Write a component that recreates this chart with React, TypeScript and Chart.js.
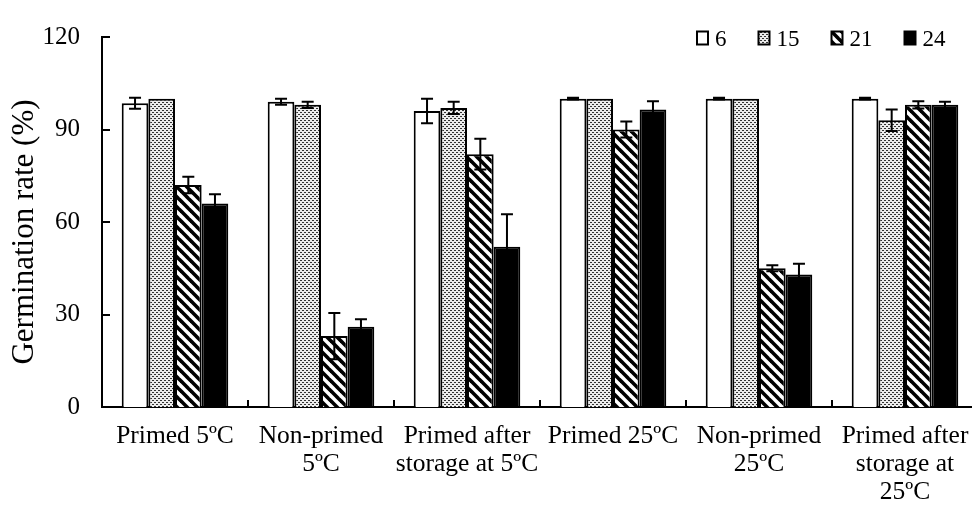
import React, { useEffect, useRef } from "react";
import { Chart, registerables } from "chart.js";

Chart.register(...registerables);

const categories: (string | string[])[] = [
  "Primed 5ºC",
  ["Non-primed", "5ºC"],
  ["Primed after", "storage at 5ºC"],
  "Primed 25ºC",
  ["Non-primed", "25ºC"],
  ["Primed after", "storage at", "25ºC"],
];

const seriesLabels = ["6", "15", "21", "24"];

const s6 = [98.5, 99, 96, 100, 100, 100];
const e6 = [1.8, 1, 4, 0.3, 0.3, 0.3];
const s15 = [100, 98, 97, 100, 100, 93];
const e15 = [0, 1, 2, 0, 0, 3.5];
const s21 = [72, 23, 82, 90, 45, 98];
const e21 = [2.7, 7.5, 5, 2.6, 1, 1.2];
const s24 = [66, 26, 52, 96.5, 43, 98];
const e24 = [3, 2.5, 10.5, 2.7, 3.5, 1];

const yTicks = [0, 30, 60, 90, 120];
const yTitle = "Germination rate (%)";

const FONT = '"Liberation Serif", "Times New Roman", serif';

function makeDots(): CanvasPattern | string {
  const c = document.createElement("canvas");
  c.width = 4;
  c.height = 4;
  const ctx = c.getContext("2d");
  if (!ctx) return "#bbb";
  ctx.fillStyle = "#ececec";
  ctx.fillRect(0, 0, 4, 4);
  ctx.fillStyle = "#333";
  ctx.fillRect(0, 0, 2, 1);
  ctx.fillRect(2, 2, 2, 1);
  return ctx.createPattern(c, "repeat") || "#bbb";
}

function makeStripes(): CanvasPattern | string {
  const n = 10;
  const c = document.createElement("canvas");
  c.width = n;
  c.height = n;
  const ctx = c.getContext("2d");
  if (!ctx) return "#888";
  ctx.fillStyle = "#fff";
  ctx.fillRect(0, 0, n, n);
  ctx.strokeStyle = "#000";
  ctx.lineWidth = 3.6;
  for (const off of [-n, 0, n]) {
    ctx.beginPath();
    ctx.moveTo(-1, off - 1);
    ctx.lineTo(n + 1, off + n + 1);
    ctx.stroke();
  }
  return ctx.createPattern(c, "repeat") || "#888";
}

export default function App() {
  const ref = useRef<HTMLCanvasElement | null>(null);

  useEffect(() => {
    if (!ref.current) return;
    const dots = makeDots();
    const stripes = makeStripes();
    const errs = [e6, e15, e21, e24];

    const errorBars = {
      id: "errorBars",
      afterDatasetsDraw(chart: any) {
        const ctx = chart.ctx;
        const y = chart.scales.y;
        ctx.save();
        ctx.strokeStyle = "#000";
        ctx.lineWidth = 2;
        chart.data.datasets.forEach((ds: any, di: number) => {
          const meta = chart.getDatasetMeta(di);
          meta.data.forEach((bar: any, i: number) => {
            const e = errs[di][i];
            if (!e) return;
            const v = ds.data[i];
            const top = y.getPixelForValue(v + e);
            const bot = y.getPixelForValue(v - e);
            const x = bar.x;
            const hw = 6;
            ctx.beginPath();
            ctx.moveTo(x, top);
            ctx.lineTo(x, bot);
            ctx.moveTo(x - hw, top);
            ctx.lineTo(x + hw, top);
            ctx.moveTo(x - hw, bot);
            ctx.lineTo(x + hw, bot);
            ctx.stroke();
          });
        });
        ctx.restore();
      },
    };

    const axisTicks = {
      id: "axisTicks",
      afterDraw(chart: any) {
        const ctx = chart.ctx;
        const { left, bottom, top } = chart.chartArea;
        const y = chart.scales.y;
        const x = chart.scales.x;
        ctx.save();
        ctx.strokeStyle = "#000";
        ctx.lineWidth = 2;
        ctx.beginPath();
        yTicks.forEach((t) => {
          if (t === 0) return;
          const py = Math.round(y.getPixelForValue(t));
          ctx.moveTo(left, py);
          ctx.lineTo(left + 8, py);
        });
        const n = categories.length;
        for (let i = 1; i < n; i++) {
          const px = (x.getPixelForValue(i - 1) + x.getPixelForValue(i)) / 2;
          ctx.moveTo(px, bottom);
          ctx.lineTo(px, bottom - 7);
        }
        ctx.stroke();

        // y-axis title
        ctx.save();
        ctx.font = `31px ${FONT}`;
        ctx.fillStyle = "#000";
        ctx.textAlign = "center";
        ctx.textBaseline = "middle";
        ctx.translate(25, (top + bottom) / 2 + 10);
        ctx.rotate(-Math.PI / 2);
        ctx.fillText(yTitle, 0, 0);
        ctx.restore();

        // legend
        ctx.font = `23px ${FONT}`;
        ctx.textBaseline = "alphabetic";
        ctx.textAlign = "left";
        const box = 11;
        const gap = 7;
        const spacing = 32;
        const widths = seriesLabels.map((l) => box + gap + ctx.measureText(l).width);
        let lx = 697;
        const ly = 31.5;
        chart.data.datasets.forEach((ds: any, i: number) => {
          ctx.fillStyle = ds.backgroundColor;
          ctx.fillRect(lx, ly, box, 13);
          ctx.lineWidth = 2;
          ctx.strokeStyle = "#000";
          ctx.strokeRect(lx, ly, box, 13);
          ctx.fillStyle = "#000";
          ctx.fillText(seriesLabels[i], lx + box + gap, ly + 14.5);
          lx += widths[i] + spacing;
        });
        ctx.restore();
      },
    };

    const mk = (label: string, data: number[], bg: any) => ({
      label,
      data,
      backgroundColor: bg,
      borderColor: "#000",
      borderWidth: 2,
      borderSkipped: "start",
      categoryPercentage: 0.73,
      barPercentage: 1,
    });

    const chart = new Chart(ref.current, {
      type: "bar",
      data: {
        labels: categories,
        datasets: [
          mk(seriesLabels[0], s6, "#ffffff"),
          mk(seriesLabels[1], s15, dots),
          mk(seriesLabels[2], s21, stripes),
          mk(seriesLabels[3], s24, "#000000"),
        ] as any,
      },
      options: {
        animation: false,
        responsive: true,
        maintainAspectRatio: false,
        layout: { padding: { top: 20, right: 0, bottom: 0, left: 0 } },
        plugins: {
          legend: { display: false },
          tooltip: { enabled: false },
        },
        scales: {
          x: {
            grid: { display: false, drawTicks: false },
            border: { display: true, color: "#000", width: 2 },
            ticks: {
              color: "#000",
              padding: 16,
              maxRotation: 0,
              autoSkip: false,
              font: { family: FONT, size: 25.5, lineHeight: 1.08 },
            },
            afterFit(scale: any) {
              scale.height = 102;
              scale.paddingLeft = 0;
              scale.paddingRight = 0;
            },
          },
          y: {
            min: 0,
            max: 120,
            afterBuildTicks(scale: any) {
              scale.ticks = yTicks.map((v) => ({ value: v }));
            },
            grid: { display: false, drawTicks: false },
            border: { display: true, color: "#000", width: 2 },
            ticks: {
              color: "#000",
              padding: 22,
              font: { family: FONT, size: 25 },
            },
            title: { display: false },
            afterFit(scale: any) {
              scale.width = 102;
            },
          },
        },
      },
      plugins: [errorBars, axisTicks],
    });
    return () => chart.destroy();
  }, []);

  return (
    <div style={{ position: "absolute", left: 0, top: 0, width: 972, height: 509, overflow: "hidden", background: "#fff" }}>
      <div style={{ position: "relative", width: 978, height: 509 }}>
        <canvas ref={ref} />
      </div>
    </div>
  );
}
